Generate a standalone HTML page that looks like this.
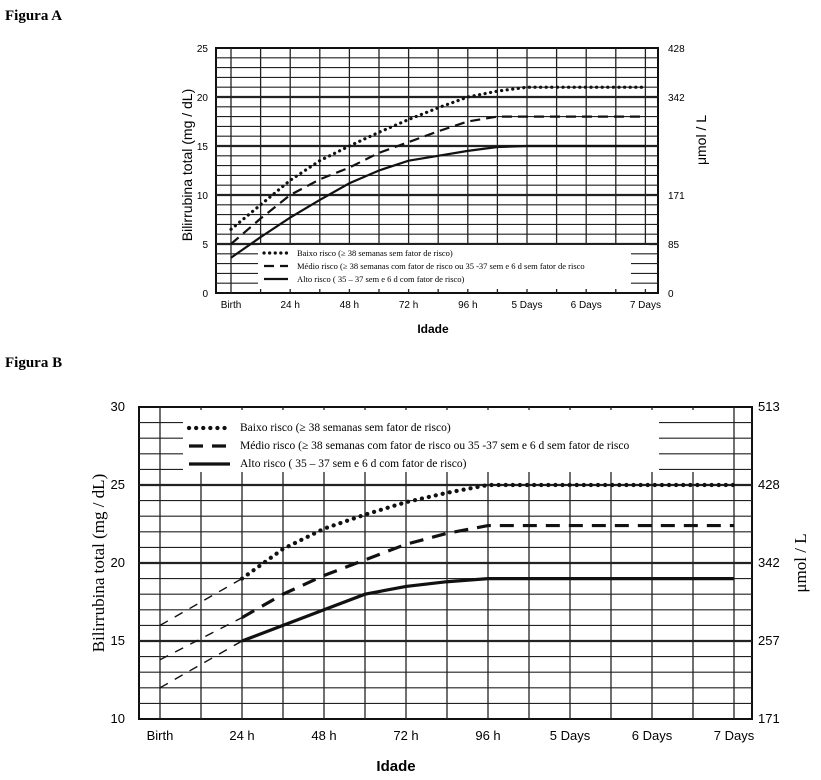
<!DOCTYPE html>
<html><head><meta charset="utf-8"><style>
html,body{margin:0;padding:0;background:#fff;width:821px;height:780px;overflow:hidden}
svg{display:block}
</style></head><body>
<svg id="s" width="821" height="780" xmlns="http://www.w3.org/2000/svg" font-family="Liberation Sans, sans-serif">
<text x="5" y="20" font-family="Liberation Serif, serif" font-weight="bold" font-size="15">Figura A</text>
<text x="5" y="367" font-family="Liberation Serif, serif" font-weight="bold" font-size="15">Figura B</text>
</svg>
<script>
const S=document.getElementById('s');const NS='http://www.w3.org/2000/svg';
function el(t,a,txt){const e=document.createElementNS(NS,t);for(const k in a)e.setAttribute(k,a[k]);if(txt!==undefined)e.textContent=txt;S.appendChild(e);return e;}
function chart(c){
 const {L,R,T,B,y0,y1,x0,dx}=c;
 const Y=v=>B-(v-y0)*(B-T)/(y1-y0);
 const X=h=>x0+h/12*dx;
 el('rect',{x:L,y:T,width:R-L,height:B-T,fill:'#fff',stroke:'#111','stroke-width':2});
 for(let i=0;i<15;i++){const x=x0+i*dx;el('line',{x1:x,y1:T,x2:x,y2:B,stroke:'#222','stroke-width':1.3});}
 for(let v=y0+1;v<y1;v++){el('line',{x1:L,y1:Y(v),x2:R,y2:Y(v),stroke:'#222','stroke-width':v%5==0?2.2:1.1});}
 el('rect',{x:c.lg[0],y:c.lg[1],width:c.lg[2]-c.lg[0],height:c.lg[3]-c.lg[1],fill:'#fff'});
 for(let v=y0+1;v<y1;v++){const y=Y(v);if(y>c.lg[1]&&y<c.lg[3]){el('line',{x1:c.lg[2]-c.stub,y1:y,x2:c.lg[2],y2:y,stroke:'#222','stroke-width':1.1});}}
 const st={dot:{'stroke-dasharray':'0.1 '+c.dg,'stroke-linecap':'round','stroke-width':c.lw+1},dash:{'stroke-dasharray':c.da,'stroke-width':c.lw},solid:{'stroke-width':c.lw}};
 c.series.forEach(s=>{
  if(s.pre){el('polyline',{points:s.pre.map(p=>X(p[0])+','+Y(p[1])).join(' '),fill:'none',stroke:'#111','stroke-width':1.4,'stroke-dasharray':'9 8'});}
  el('polyline',Object.assign({points:s.p.map(p=>X(p[0])+','+Y(p[1])).join(' '),fill:'none',stroke:'#111'},st[s.t]));
 });
 c.leg.forEach((l,i)=>{const y=c.ly[i];el('line',Object.assign({x1:c.lx[0],y1:y,x2:c.lx[1],y2:y,stroke:'#111'},st[l.t]));
  el('text',{x:c.lx[2],y:y+3,'font-family':'Liberation Serif, serif','font-size':c.lfs},l.s);});
 const labs=['Birth','24 h','48 h','72 h','96 h','5 Days','6 Days','7 Days'];
 labs.forEach((t,i)=>el('text',{x:x0+i*2*dx,y:c.xly,'text-anchor':'middle','font-size':c.fs},t));
 c.yl.forEach(v=>el('text',{x:L-c.ylo,y:Y(v)+4,'text-anchor':'end','font-size':c.fs},v));
 c.rl.forEach(p=>el('text',{x:R+c.rlo,y:Y(p[0])+4,'font-size':c.fs},p[1]));
}
const leg=[{t:'dot',s:'Baixo risco  (≥ 38 semanas sem fator de risco)'},{t:'dash',s:'Médio risco (≥ 38 semanas com fator de risco ou 35 -37 sem e 6 d sem fator de risco'},{t:'solid',s:'Alto risco    ( 35 – 37 sem e 6 d com fator de risco)'}];
chart({L:216,R:658,T:48,B:293,y0:0,y1:25,x0:231,dx:29.6,lw:2.2,dg:5.5,da:'10 6',fs:10,lfs:8.5,xly:308,ylo:8,rlo:10,stub:18,
 lg:[258,245,649,289],lx:[264,288,297],ly:[253,266,279],
 yl:[0,5,10,15,20,25],rl:[[0,'0'],[5,'85'],[10,'171'],[20,'342'],[25,'428']],leg:leg,
 series:[
  {t:'dot',p:[[0,6.5],[12,9],[24,11.5],[36,13.5],[48,15],[60,16.4],[72,17.7],[84,18.9],[96,20],[108,20.6],[120,21],[168,21]]},
  {t:'dash',p:[[0,5],[12,7.6],[24,10],[36,11.6],[48,12.8],[60,14.3],[72,15.4],[84,16.5],[96,17.5],[108,18],[168,18]]},
  {t:'solid',p:[[0,3.6],[12,5.7],[24,7.7],[36,9.5],[48,11.2],[60,12.5],[72,13.5],[84,14],[96,14.5],[108,14.9],[120,15],[168,15]]}
 ]});
chart({L:139,R:752,T:407,B:719,y0:10,y1:30,x0:160,dx:41,lw:3.2,dg:7,da:'14 9',fs:13,lfs:11.5,xly:740,ylo:14,rlo:6,stub:48,
 lg:[183,410,707,472],lx:[189,230,240],ly:[428,446,464],
 yl:[10,15,20,25,30],rl:[[10,'171'],[15,'257'],[20,'342'],[25,'428'],[30,'513']],leg:leg,
 series:[
  {t:'dot',pre:[[0,16],[24,19]],p:[[24,19],[36,20.9],[48,22.2],[60,23.1],[72,23.9],[84,24.5],[96,25],[168,25]]},
  {t:'dash',pre:[[0,13.8],[24,16.5]],p:[[24,16.5],[36,18],[48,19.2],[60,20.2],[72,21.2],[84,21.9],[96,22.4],[168,22.4]]},
  {t:'solid',pre:[[0,12],[24,15]],p:[[24,15],[36,16],[48,17],[60,18],[72,18.5],[84,18.8],[96,19],[168,19]]}
 ]});
el('text',{x:0,y:0,transform:'translate(192,165) rotate(-90)','text-anchor':'middle','font-size':14},'Bilirrubina total (mg / dL)');
el('text',{x:0,y:0,transform:'translate(706,140) rotate(-90)','text-anchor':'middle','font-size':14},'μmol / L');
el('text',{x:433,y:333,'text-anchor':'middle','font-size':12,'font-weight':'bold'},'Idade');
el('text',{x:0,y:0,transform:'translate(104,563) rotate(-90)','text-anchor':'middle','font-size':17,'font-family':'Liberation Serif, serif'},'Bilirrubina total (mg / dL)');
el('text',{x:0,y:0,transform:'translate(806,563) rotate(-90)','text-anchor':'middle','font-size':17,'font-family':'Liberation Serif, serif'},'μmol / L');
el('text',{x:396,y:771,'text-anchor':'middle','font-size':15,'font-weight':'bold'},'Idade');
</script>
</body></html>
